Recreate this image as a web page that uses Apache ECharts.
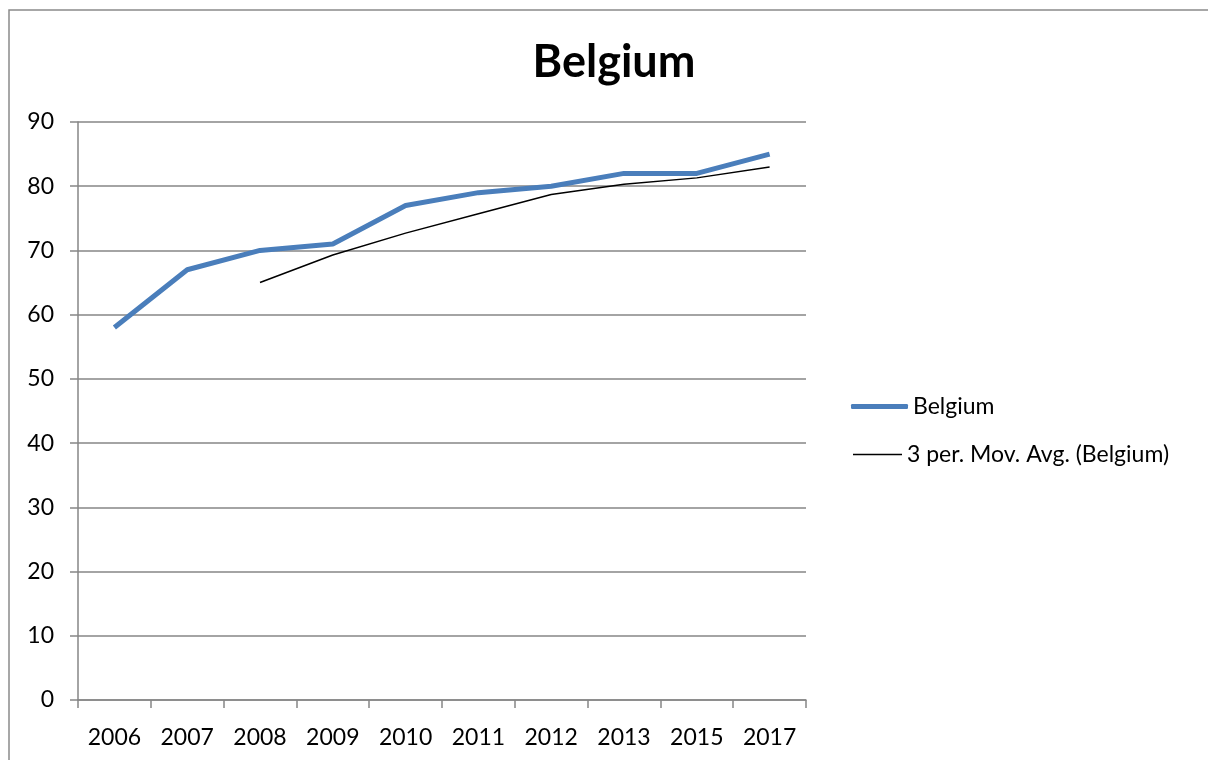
<!DOCTYPE html>
<html>
<head>
<meta charset="utf-8">
<script src="https://cdn.jsdelivr.net/npm/echarts@6/dist/echarts.min.js"></script>
<style>html,body{margin:0;padding:0;background:#fff}#c{width:1208px;height:760px}</style>
</head>
<body>
<div id="c"></div>
<script>
const categories = ['2006','2007','2008','2009','2010','2011','2012','2013','2015','2017'];
const belgium = [58, 67, 70, 71, 77, 79, 80, 82, 82, 85];
const movAvg = [null, null, 65, 69.3, 72.7, 75.7, 78.7, 80.3, 81.3, 83];
const yTicks = {min: 0, max: 90, interval: 10};

const FONT = 'Lato, "Open Sans", "Liberation Sans", sans-serif';
const chart = echarts.init(document.getElementById('c'));
chart.setOption({
  animation: false,
  backgroundColor: '#fff',
  textStyle: {fontFamily: FONT},
  graphic: [{
    type: 'rect', shape: {x: 9, y: 10, width: 1300, height: 800},
    style: {fill: 'none', stroke: '#8a8a8a', lineWidth: 1.5}, silent: true, z: -1
  }],
  title: {
    text: 'Belgium', left: 609, top: 35, textAlign: 'center',
    textStyle: {fontFamily: FONT, fontSize: 45, fontWeight: 'bold', color: '#000'}
  },
  legend: [{
    data: [{name: 'Belgium', icon: 'roundRect'}], left: 846, top: 390, orient: 'vertical',
    itemWidth: 57, itemHeight: 5,
    textStyle: {fontFamily: FONT, fontSize: 23, color: '#000'}
  }, {
    data: [{name: '3 per. Mov. Avg. (Belgium)', icon: 'rect'}], left: 848, top: 438, orient: 'vertical',
    itemWidth: 49, itemHeight: 1.5,
    textStyle: {fontFamily: FONT, fontSize: 23, color: '#000'}
  }],
  grid: {left: 78, right: 402, top: 122, bottom: 60, containLabel: false},
  xAxis: {
    type: 'category', data: categories, boundaryGap: true,
    axisLine: {lineStyle: {color: '#868686', width: 1.5}},
    axisTick: {show: true, interval: 0, length: 8, lineStyle: {color: '#868686', width: 1.5}},
    axisLabel: {interval: 0, margin: 26, fontSize: 23, color: '#000', fontFamily: FONT},
    splitLine: {show: false}
  },
  yAxis: {
    type: 'value', min: yTicks.min, max: yTicks.max, interval: yTicks.interval,
    axisLine: {show: true, lineStyle: {color: '#868686', width: 1.5}},
    axisTick: {show: true, length: 8, lineStyle: {color: '#868686', width: 1.5}},
    axisLabel: {margin: 24, fontSize: 23, color: '#000', fontFamily: FONT},
    splitLine: {show: true, lineStyle: {color: '#868686', width: 1.5}}
  },
  series: [{
    name: 'Belgium', type: 'line', data: belgium, showSymbol: false, symbol: 'none',
    lineStyle: {color: '#4a7ebb', width: 5}, itemStyle: {color: '#4a7ebb'}, z: 3
  }, {
    name: '3 per. Mov. Avg. (Belgium)', type: 'line', data: movAvg, showSymbol: false, symbol: 'none',
    connectNulls: false,
    lineStyle: {color: '#000', width: 1.5}, itemStyle: {color: '#000'}, z: 4
  }]
});
</script>
</body>
</html>
